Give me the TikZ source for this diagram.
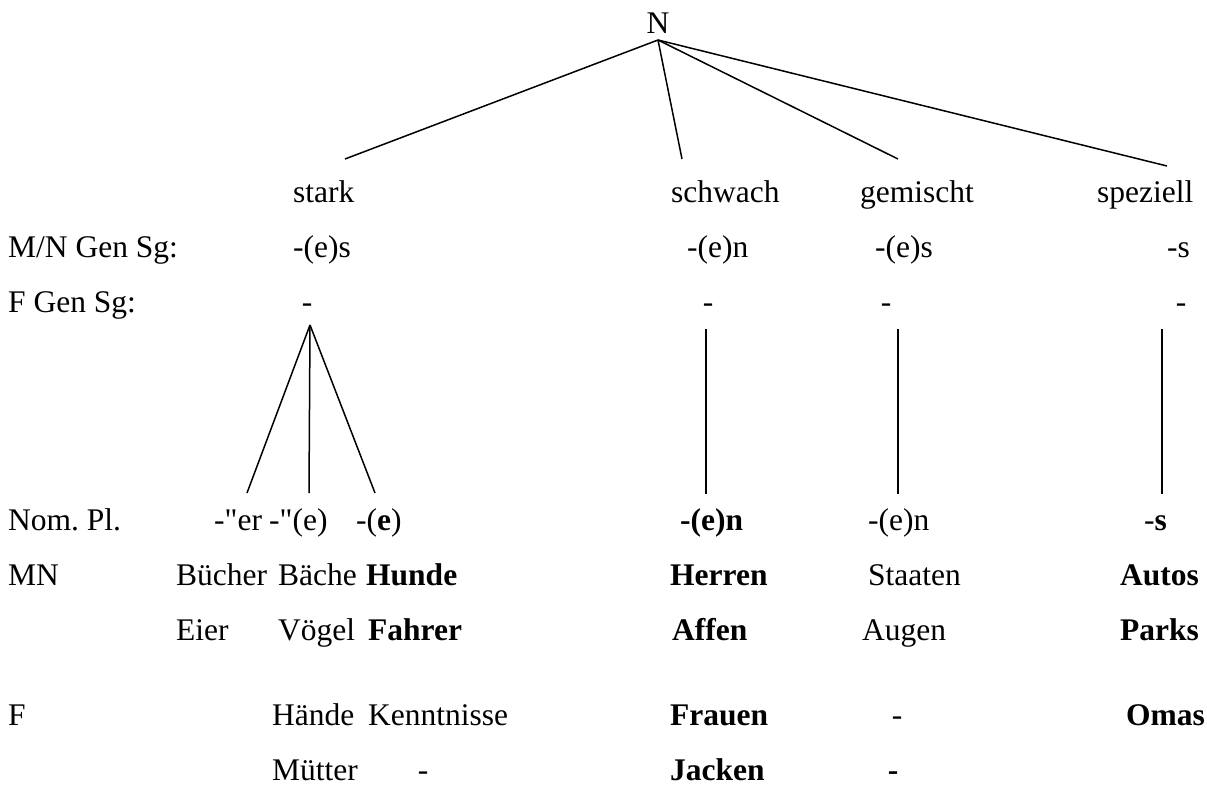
\documentclass[tikz,border=0pt]{standalone}
\usepackage{fontspec}
\setmainfont{Liberation Serif}
\begin{document}
\frenchspacing
\begin{tikzpicture}[x=1pt,y=-1pt,
  txt/.style={inner sep=0pt, anchor=base west, font=\fontsize{31.5}{36}\selectfont},
  ctxt/.style={txt, anchor=base},
  btxt/.style={txt, font=\fontsize{31.5}{36}\selectfont\bfseries},
  ln/.style={line width=1.5pt}]
\useasboundingbox (0,0) rectangle (1207,811);
% root and classes
\node[ctxt] (N) at (658,33) {N};
\node[txt] (stark) at (293,202) {stark};
\node[txt] (schwach) at (671,202) {schwach};
\node[txt] (gemischt) at (860,202) {gemischt};
\node[txt] (speziell) at (1097,202) {speziell};
% M/N Gen Sg
\node[txt] (mngen) at (8,257) {M/N Gen Sg:};
\node[txt] (mn1) at (293,257) {-(e)s};
\node[txt] (mn2) at (687,257) {-(e)n};
\node[txt] (mn3) at (875,257) {-(e)s};
\node[txt] (mn4) at (1167,257) {-s};
% F Gen Sg
\node[txt] (fgen) at (8,312) {F Gen Sg:};
\node[ctxt] (fg1) at (307,312) {-};
\node[ctxt] (fg2) at (708,312) {-};
\node[ctxt] (fg3) at (886,312) {-};
\node[ctxt] (fg4) at (1181,312) {-};
% Nom Pl
\node[txt] (nompl) at (8,530) {Nom. Pl.};
\node[txt] (np1) at (214,530) {-\textquotedbl er};
\node[txt] (np2) at (269,530) {-\textquotedbl(e)};
\node[txt] (np3) at (356,530) {-(\textbf{e})};
\node[btxt] (np4) at (680,530) {-(e)n};
\node[txt] (np5) at (868,530) {-(e)n};
\node[txt] (np6) at (1144,530) {-\textbf{s}};
% MN
\node[txt] (mn) at (8,585) {MN};
\node[txt] (w1) at (176,585) {Bücher};
\node[txt] (w2) at (278,585) {Bäche};
\node[btxt] (w3) at (366,585) {Hunde};
\node[btxt] (w4) at (670,585) {Herren};
\node[txt] (w5) at (868,585) {Staaten};
\node[btxt] (w6) at (1120,585) {Autos};
\node[txt] (e1) at (176,640) {Eier};
\node[txt] (e2) at (278,640) {Vögel};
\node[btxt] (e3) at (368,640) {Fahrer};
\node[btxt] (e4) at (672,640) {Affen};
\node[txt] (e5) at (862,640) {Augen};
\node[btxt] (e6) at (1120,640) {Parks};
% F
\node[txt] (f) at (8,725) {F};
\node[txt] (h1) at (272,725) {Hände};
\node[txt] (h2) at (368,725) {Kenntnisse};
\node[btxt] (h3) at (670,725) {Frauen};
\node[ctxt] (h4) at (897,725) {-};
\node[btxt] (h5) at (1126,725) {Omas};
\node[txt] (m1) at (272,780) {Mütter};
\node[ctxt] (m2) at (423,780) {-};
\node[btxt] (m3) at (670,780) {Jacken};
\node[ctxt, font=\fontsize{31.5}{36}\selectfont\bfseries] (m4) at (893,780) {-};
% connector end points
\coordinate (apex) at (658,40);
\coordinate (cst) at (345,159);
\coordinate (csw) at (682,159);
\coordinate (cge) at (898,159);
\coordinate (csp) at (1167,166);
\coordinate (sa) at (310,325);
\coordinate (sb1) at (247,493);
\coordinate (sb2) at (309,493);
\coordinate (sb3) at (375,493);
\coordinate (v1t) at (706,329);
\coordinate (v1b) at (706,494);
\coordinate (v2t) at (898,329);
\coordinate (v2b) at (898,494);
\coordinate (v3t) at (1162,329);
\coordinate (v3b) at (1162,494);
\draw[ln] (apex) -- (cst);
\draw[ln] (apex) -- (csw);
\draw[ln] (apex) -- (cge);
\draw[ln] (apex) -- (csp);
\draw[ln] (sa) -- (sb1);
\draw[ln] (sa) -- (sb2);
\draw[ln] (sa) -- (sb3);
\draw[ln] (v1t) -- (v1b);
\draw[ln] (v2t) -- (v2b);
\draw[ln] (v3t) -- (v3b);
\end{tikzpicture}
\end{document}
